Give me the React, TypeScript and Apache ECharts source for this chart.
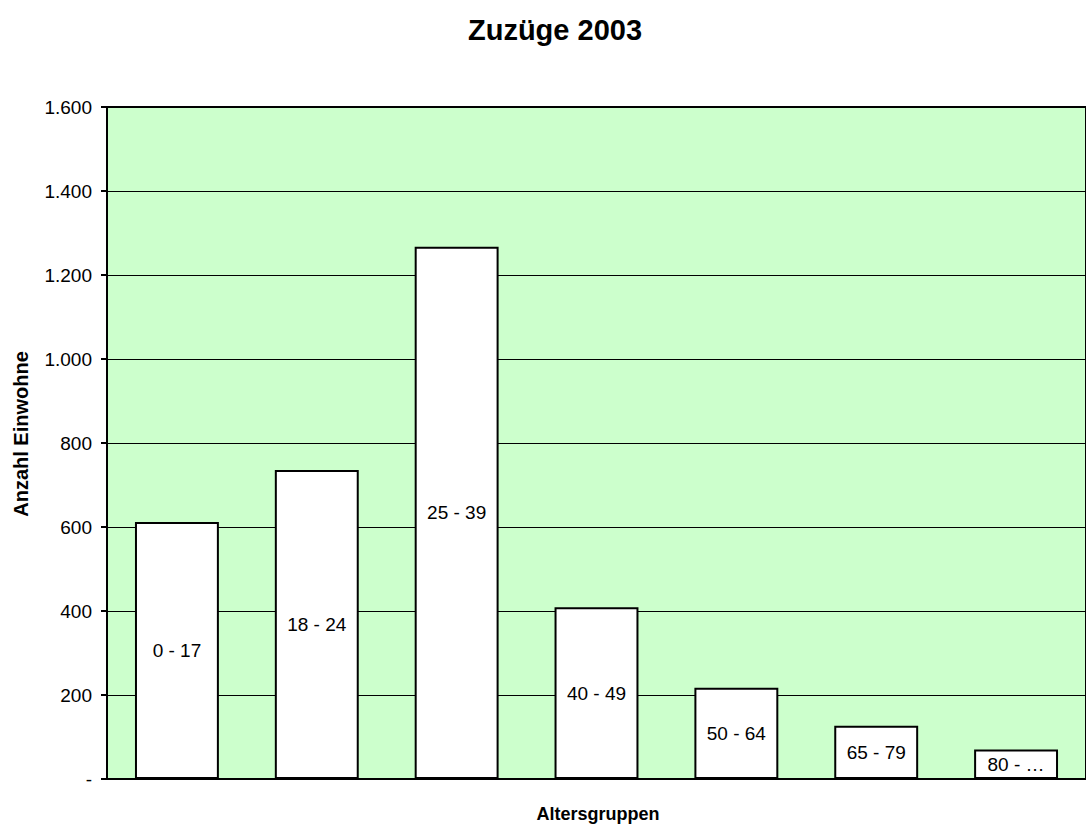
import React, { useEffect, useRef } from "react";
import * as echarts from "echarts";

const categories = ["0 - 17", "18 - 24", "25 - 39", "40 - 49", "50 - 64", "65 - 79", "80 - …"];
const values = [612, 736, 1267, 409, 217, 127, 70];
const title = "Zuzüge 2003";
const yName = "Anzahl Einwohne";
const xName = "Altersgruppen";

function fmt(v: number): string {
  if (v === 0) return "-";
  return String(v).replace(/\B(?=(\d{3})+(?!\d))/g, ".");
}

export default function App() {
  const ref = useRef<HTMLDivElement>(null);
  useEffect(() => {
    if (!ref.current) return;
    const chart = echarts.init(ref.current, null, { renderer: "svg" });
    const font = "Arial, 'Liberation Sans', sans-serif";
    chart.setOption({
      animation: false,
      backgroundColor: "#ffffff",
      textStyle: { fontFamily: font },
      title: {
        text: title,
        left: 550,
        top: 10,
        textAlign: "center",
        textStyle: { fontSize: 29, fontWeight: "bold", color: "#000", fontFamily: font },
      },
      grid: {
        left: 107,
        top: 107,
        width: 988,
        height: 672,
        show: true,
        backgroundColor: "#ccffcc",
        borderWidth: 2,
        borderColor: "#000",
      },
      graphic: [
        {
          type: "text",
          x: 21,
          y: 434,
          rotation: Math.PI / 2,
          style: {
            text: yName,
            font: "bold 20px " + font,
            fill: "#000",
            align: "center",
            verticalAlign: "middle",
          },
        },
        {
          type: "text",
          x: 598,
          y: 814,
          style: {
            text: xName,
            font: "bold 18px " + font,
            fill: "#000",
            align: "center",
            verticalAlign: "middle",
          },
        },
      ],
      xAxis: {
        type: "category",
        data: categories,
        axisLine: { show: true, lineStyle: { color: "#000", width: 2 } },
        axisTick: { show: false },
        axisLabel: { show: false },
      },
      yAxis: {
        type: "value",
        min: 0,
        max: 1600,
        interval: 200,
        axisLine: { show: true, lineStyle: { color: "#000", width: 2 } },
        axisTick: { show: true, length: 6, inside: false, lineStyle: { color: "#000", width: 2 } },
        axisLabel: {
          formatter: (v: number) => fmt(v),
          fontSize: 19,
          color: "#000",
          margin: 15,
          fontFamily: font,
        },
        splitLine: { show: true, lineStyle: { color: "#000", width: 1 } },
      },
      series: [
        {
          type: "bar",
          data: values,
          barWidth: "60%",
          itemStyle: { color: "#ffffff", borderColor: "#000", borderWidth: 2 },
          label: {
            show: true,
            position: "inside",
            formatter: (p: any) => categories[p.dataIndex],
            fontSize: 19,
            color: "#000",
            fontFamily: font,
            backgroundColor: "#ffffff",
            padding: [2, 4],
          },
        },
      ],
    });
    return () => chart.dispose();
  }, []);
  return <div ref={ref} style={{ width: 1086, height: 829, position: "absolute", left: 0, top: 0 }} />;
}
